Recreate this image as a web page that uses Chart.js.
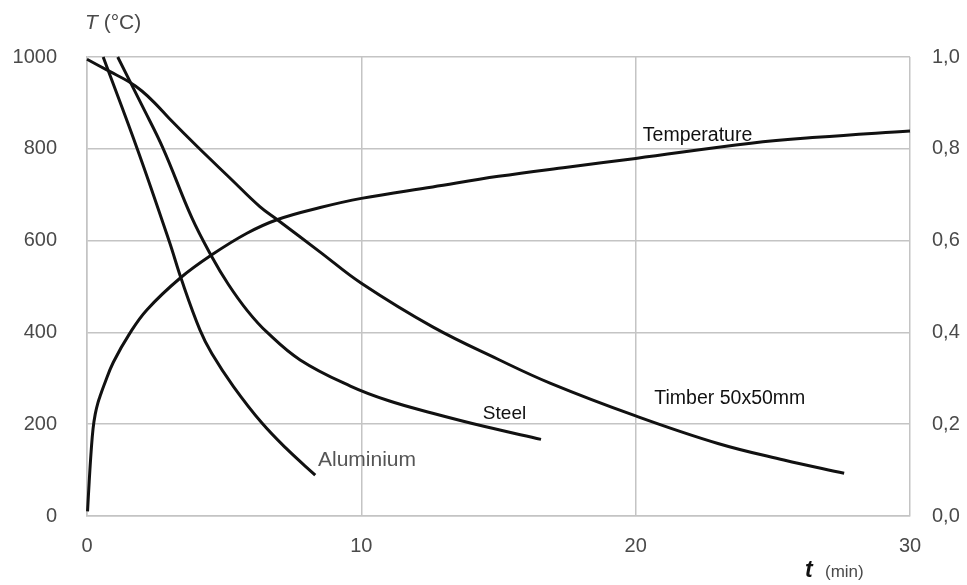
<!DOCTYPE html>
<html>
<head>
<meta charset="utf-8">
<script src="https://cdn.jsdelivr.net/npm/chart.js@4.4.0/dist/chart.umd.min.js"></script>
<style>
  html, body { margin: 0; padding: 0; background: #fff; }
  #wrap { width: 967px; height: 585px; }
</style>
</head>
<body>
<div id="wrap"><canvas id="coolChart" width="967" height="585"></canvas></div>
<script>
// values: time in minutes, temperature in °C
var tempTime  = [0.02, 0.08, 0.15, 0.22, 0.3, 0.4, 0.5, 0.62, 0.96, 1.57, 2.18, 3.39, 4.55, 5.83, 6.95, 8.5, 10.0, 12.6, 15.0, 17.5, 20.0, 24.2, 26.6, 30.0];
var tempValue = [10, 75, 140, 190, 222, 247, 265, 285, 335, 399, 449, 518, 569, 616, 646, 672, 692, 717, 740, 760, 779, 812, 825, 839];

var timberTime  = [0, 0.84, 1.5, 2.0, 2.5, 3.0, 4.0, 5.2, 6.3, 6.95, 8.5, 10.0, 12.6, 15.0, 16.9, 20.0, 23.0, 25.4, 27.6];
var timberValue = [995, 968, 947, 926, 898, 866, 806, 737, 674, 645, 575, 507, 412, 341, 289, 218, 158, 122, 93];

var steelTime  = [1.12, 2.0, 2.78, 3.82, 4.55, 5.15, 5.85, 6.55, 7.77, 9.6, 11.0, 12.6, 14.5, 16.55];
var steelValue = [1000, 895, 800, 650, 565, 505, 447, 401, 340, 283, 251, 224, 195, 167];

var alumTime  = [0.59, 1.85, 3.0, 3.45, 4.12, 4.55, 5.34, 6.37, 7.3, 8.32];
var alumValue = [1000, 797, 598, 514, 405, 354, 282, 203, 145, 89];

var xTicks = [0, 10, 20, 30];
var yTicks = [0, 200, 400, 600, 800, 1000];
var y2Ticks = [0, 0.2, 0.4, 0.6, 0.8, 1.0];

var curveNames = ['Temperature', 'Timber 50x50mm', 'Steel', 'Aluminium'];

function pts(ts, vs) {
  return ts.map(function (t, i) { return { x: t, y: vs[i] }; });
}

function line(label, data) {
  return {
    label: label,
    data: data,
    borderColor: '#111',
    borderWidth: 3,
    pointRadius: 0,
    fill: false,
    tension: 0.4,
    clip: 4
  };
}

var font = "'Liberation Sans', Arial, sans-serif";
var gridCol = '#c4c4c4';
var tickCol = '#4a4a4a';

// labels next to the curves, anchored in data units (left / baseline)
var labelSpots = [
  { t: 20.26, v: 818, size: 19.5, color: '#111' },
  { t: 20.68, v: 244, size: 19.5, color: '#111' },
  { t: 14.43, v: 211, size: 19, color: '#111' },
  { t: 8.42,  v: 109, size: 21, color: '#555' }
];

var textPlugin = {
  id: 'texts',
  afterDraw: function (chart) {
    var ctx = chart.ctx;
    var x = chart.scales.x, y = chart.scales.y;
    ctx.save();
    ctx.textBaseline = 'alphabetic';
    ctx.textAlign = 'left';
    curveNames.forEach(function (name, i) {
      var s = labelSpots[i];
      ctx.font = s.size + 'px ' + font;
      ctx.fillStyle = s.color;
      ctx.fillText(name, x.getPixelForValue(s.t), y.getPixelForValue(s.v));
    });

    // axis titles
    ctx.fillStyle = tickCol;
    ctx.font = 'italic 21px ' + font;
    ctx.fillText('T', 85, 29);
    var w = ctx.measureText('T').width;
    ctx.font = '21px ' + font;
    ctx.fillText(' (°C)', 85 + w, 29);

    ctx.fillStyle = '#111';
    ctx.font = 'italic bold 23px ' + font;
    ctx.fillText('t', 805, 577);
    ctx.fillStyle = tickCol;
    ctx.font = '17px ' + font;
    ctx.fillText('(min)', 825, 577);
    ctx.restore();
  }
};

var ctx1 = document.getElementById('coolChart');
var coolChart = new Chart(ctx1, {
  type: 'line',
  data: {
    datasets: [
      line('Temperature', pts(tempTime, tempValue)),
      line('Timber 50x50mm', pts(timberTime, timberValue)),
      line('Steel', pts(steelTime, steelValue)),
      line('Aluminium', pts(alumTime, alumValue))
    ]
  },
  options: {
    responsive: false,
    animation: false,
    layout: { padding: { top: 57, left: 0, right: 0, bottom: 0 } },
    plugins: {
      legend: { display: false },
      tooltip: { enabled: false }
    },
    scales: {
      x: {
        type: 'linear',
        min: 0,
        max: 30,
        afterBuildTicks: function (s) { s.ticks = xTicks.map(function (v) { return { value: v }; }); },
        afterFit: function (s) { s.height = 69; },
        grid: { color: gridCol, lineWidth: 1.5, drawTicks: false },
        border: { color: gridCol, width: 1.5 },
        ticks: { color: tickCol, font: { family: font, size: 20 }, padding: 18, maxRotation: 0 }
      },
      y: {
        position: 'left',
        min: 0,
        max: 1000,
        afterBuildTicks: function (s) { s.ticks = yTicks.map(function (v) { return { value: v }; }); },
        afterFit: function (s) { s.width = 87; },
        grid: { color: gridCol, lineWidth: 1.5, drawTicks: false },
        border: { color: gridCol, width: 1.5 },
        ticks: {
          color: tickCol,
          font: { family: font, size: 20 },
          padding: 30,
          callback: function (v) { return String(v); }
        }
      },
      y2: {
        position: 'right',
        min: 0,
        max: 1,
        afterBuildTicks: function (s) { s.ticks = y2Ticks.map(function (v) { return { value: v }; }); },
        afterFit: function (s) { s.width = 57; },
        grid: { display: false, drawTicks: false },
        border: { display: false },
        ticks: {
          color: tickCol,
          font: { family: font, size: 20 },
          padding: 22,
          callback: function (v) { return v.toFixed(1).replace('.', ','); }
        }
      }
    }
  },
  plugins: [textPlugin]
});
</script>
</body>
</html>
